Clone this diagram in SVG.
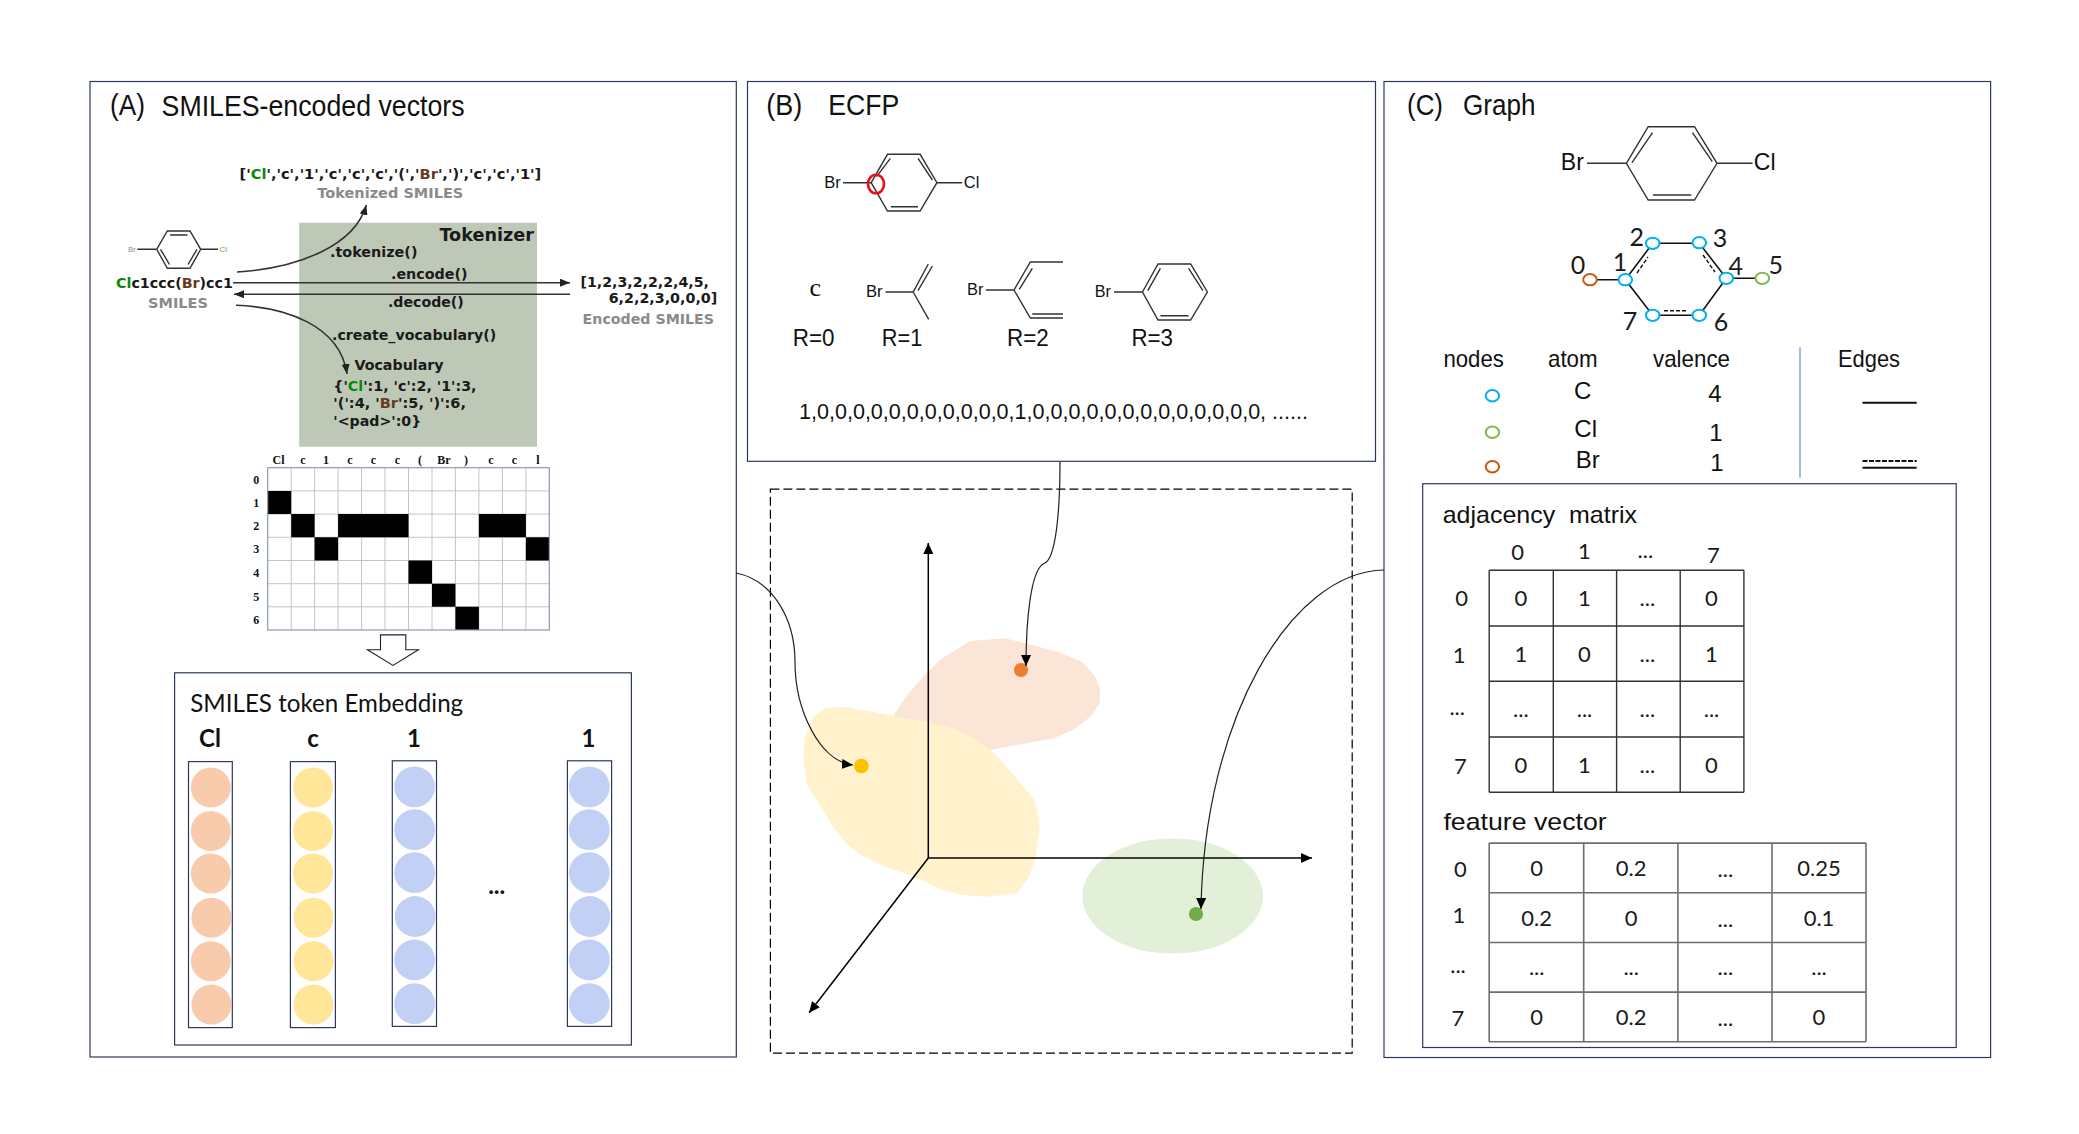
<svg xmlns="http://www.w3.org/2000/svg" width="2079" height="1134" viewBox="0 0 2079 1134">
<style>
text{font-family:"Liberation Sans",Arial,sans-serif;fill:#111}
.box{fill:none;stroke:#2A3A5E;stroke-width:1.2}
.t{font-size:29px}
.d{font-family:"DejaVu Sans",sans-serif;font-weight:700;font-size:14.5px;fill:#1a1a1a}
.g{fill:#8a8a8a}
.cl{fill:#0a8a0a}
.br{fill:#6b3a1e}
.s{font-family:"Liberation Serif",serif;font-weight:700;font-size:12px;text-anchor:middle}
.l{font-family:Lato,sans-serif;font-size:22px;text-anchor:middle;fill:#1a1a1a}
.n{font-size:25px}
.lb{font-family:Lato,sans-serif;font-size:24px;font-weight:700;text-anchor:middle}
.a{font-size:24px}
.m{text-anchor:middle}
.bond{fill:none;stroke:#333;stroke-width:1.4}
.cv{fill:none;stroke:#222;stroke-width:1.2}
.ax{fill:none;stroke:#000;stroke-width:1.5}
.ar{fill:none;stroke:#333;stroke-width:1.6}
.grid{fill:none;stroke:#c4c4c4;stroke-width:1}
.e{fill:#fff;stroke-width:2}
.bl{stroke:#00B0F0}.gr{stroke:#7DBB4E}.or{stroke:#C55A11}
.c1{fill:#F8CBAD}.c2{fill:#FFE699}.c3{fill:#C2D0F5}
.tbl{fill:none;stroke:#333;stroke-width:1.4}
.tb2{fill:none;stroke:#6e6e6e;stroke-width:1.6}
.bk{fill:none;stroke:#111;stroke-width:2}
</style>
<defs>
<marker id="ah" markerUnits="userSpaceOnUse" markerWidth="12" markerHeight="10" refX="11" refY="5" orient="auto"><path d="M0 0L11 5L0 10Z" fill="#000"/></marker>
<marker id="ahs" markerUnits="userSpaceOnUse" markerWidth="11" markerHeight="8" refX="10" refY="4" orient="auto"><path d="M0 0L10 4L0 8Z" fill="#222"/></marker>
</defs>
<rect width="2079" height="1134" fill="#fff"/>

<g id="panel-a">
<rect class="box" x="90" y="81.5" width="646.3" height="975.5"/>
<text class="t" x="110" y="115" textLength="35" lengthAdjust="spacingAndGlyphs">(A)</text>
<text class="t" x="161.6" y="116" textLength="303" lengthAdjust="spacingAndGlyphs">SMILES-encoded vectors</text>
<g id="tokenizer">
<rect x="299.2" y="222.7" width="237.8" height="224" fill="#BDC8B6"/>
<text class="d" style="font-size:18px" x="439.4" y="240.7" textLength="94.6" lengthAdjust="spacingAndGlyphs">Tokenizer</text>
<text class="d" x="330" y="257.3" textLength="87.5" lengthAdjust="spacingAndGlyphs">.tokenize()</text>
<text class="d" x="391" y="279" textLength="76.6" lengthAdjust="spacingAndGlyphs">.encode()</text>
<text class="d" x="388" y="306.7" textLength="75.8" lengthAdjust="spacingAndGlyphs">.decode()</text>
<text class="d" x="332" y="340" textLength="164.3" lengthAdjust="spacingAndGlyphs">.create_vocabulary()</text>
<text class="d" x="354.4" y="370" textLength="89.2" lengthAdjust="spacingAndGlyphs">Vocabulary</text>
<text class="d" x="333.3" y="390.7" textLength="143.2" lengthAdjust="spacingAndGlyphs">{'<tspan class="cl">Cl</tspan>':1, 'c':2, '1':3,</text>
<text class="d" x="333.3" y="408" textLength="132.7" lengthAdjust="spacingAndGlyphs">'(':4, '<tspan class="br">Br</tspan>':5, ')':6,</text>
<text class="d" x="333.3" y="425.7" textLength="88" lengthAdjust="spacingAndGlyphs">'&lt;pad&gt;':0}</text>
</g>
<g id="tokens">
<text class="d" x="239.5" y="179" textLength="301.8" lengthAdjust="spacingAndGlyphs">['<tspan class="cl">Cl</tspan>','c','1','c','c','c','(','<tspan class="br">Br</tspan>',')','c','c','1']</text>
<text class="d g" x="317.3" y="197.5" textLength="146" lengthAdjust="spacingAndGlyphs">Tokenized SMILES</text>
</g>
<g id="smiles">
<path class="bond" d="M156.7 249.3L167.3 231H190L200.7 249.3L190 268.3H167.3ZM137.3 249.3H156.7M200.7 249.3H218M170 235H187.5M160.5 249.3L169.5 264.5M197 249.3L188 264.5"/>
<text x="128" y="252" font-size="8" style="fill:#a08a7a">Br</text>
<text x="219.5" y="252" font-size="8" style="fill:#55b055">Cl</text>
<text class="d" x="116" y="288" textLength="117" lengthAdjust="spacingAndGlyphs"><tspan class="cl">Cl</tspan>c1ccc(<tspan class="br">Br</tspan>)cc1</text>
<text class="d g" x="148" y="307.7" textLength="60" lengthAdjust="spacingAndGlyphs">SMILES</text>
</g>
<g id="encoded">
<text class="d" x="580.5" y="286.7" textLength="128.5" lengthAdjust="spacingAndGlyphs">[1,2,3,2,2,2,4,5,</text>
<text class="d" x="608.7" y="303.3" textLength="108.6" lengthAdjust="spacingAndGlyphs">6,2,2,3,0,0,0]</text>
<text class="d g" x="582.6" y="324" textLength="131.4" lengthAdjust="spacingAndGlyphs">Encoded SMILES</text>
</g>
<g id="one-hot">
<rect x="267.7" y="467.7" width="281.6" height="162.3" fill="#fff"/>
<path class="grid" d="M291.2 467.7V630M314.6 467.7V630M338.1 467.7V630M361.6 467.7V630M385 467.7V630M408.5 467.7V630M432 467.7V630M455.4 467.7V630M478.9 467.7V630M502.4 467.7V630M525.9 467.7V630M267.7 490.9H549.3M267.7 514.1H549.3M267.7 537.3H549.3M267.7 560.5H549.3M267.7 583.7H549.3M267.7 606.8H549.3"/>
<path fill="#000" d="M267.7 490.9h23.5v23.2h-23.5zM291.2 514.1h23.4v23.2h-23.4zM338.1 514.1h70.4v23.2h-70.4zM478.9 514.1h47v23.2h-47zM314.6 537.3h23.5v23.2h-23.5zM525.9 537.3h23.4v23.2h-23.4zM408.5 560.5h23.5v23.2h-23.5zM432 583.7h23.4v23.1h-23.4zM455.4 606.8h23.5v23.2h-23.5z"/>
<rect x="267.7" y="467.7" width="281.6" height="162.3" fill="none" stroke="#8c9ab0" stroke-width="1.2"/>
<text class="s" x="278.6" y="464">Cl</text><text class="s" x="303" y="464">c</text><text class="s" x="326" y="464">1</text><text class="s" x="349.8" y="464">c</text><text class="s" x="373.3" y="464">c</text><text class="s" x="397.3" y="464">c</text><text class="s" x="420" y="464">(</text><text class="s" x="444" y="464">Br</text><text class="s" x="466" y="464">)</text><text class="s" x="490.8" y="464">c</text><text class="s" x="514.4" y="464">c</text><text class="s" x="538" y="464">l</text>
<text class="s" x="256.3" y="484.2">0</text><text class="s" x="256.3" y="506.7">1</text><text class="s" x="256.3" y="530">2</text><text class="s" x="256.3" y="553.3">3</text><text class="s" x="256.3" y="576.6">4</text><text class="s" x="256.3" y="600.7">5</text><text class="s" x="256.3" y="624">6</text>
</g>
<path id="block-arrow" d="M380.5 634.9H405.8V649.7H418.4L393 665.4L367.4 649.7H380.5Z" fill="#fff" stroke="#222" stroke-width="1.1"/>
<g id="embedding">
<rect class="box" x="174.6" y="672.8" width="456.8" height="372.2"/>
<text style="font-family:Lato,sans-serif;font-size:25.5px" x="190.2" y="711.5" textLength="273" lengthAdjust="spacingAndGlyphs">SMILES token Embedding</text>
<text class="lb" x="210" y="747">Cl</text><text class="lb" x="313" y="747">c</text><text class="lb" x="414" y="747">1</text><text class="lb" x="588.5" y="747">1</text>
<text class="lb" x="496.7" y="894">...</text>
<g id="vec-cl"><rect class="box" x="188.5" y="761.6" width="43.8" height="266"/>
<circle class="c1" cx="210.8" cy="787.6" r="20"/><circle class="c1" cx="210.8" cy="831" r="20"/><circle class="c1" cx="210.8" cy="873.5" r="20"/><circle class="c1" cx="211.4" cy="917.7" r="20"/><circle class="c1" cx="210.8" cy="961.2" r="20"/><circle class="c1" cx="211.4" cy="1004.5" r="20"/></g>
<g id="vec-c"><rect class="box" x="290.4" y="761.6" width="45" height="266"/>
<circle class="c2" cx="313.1" cy="787.6" r="20"/><circle class="c2" cx="313.1" cy="831" r="20"/><circle class="c2" cx="313.1" cy="873.5" r="20"/><circle class="c2" cx="313.6" cy="917.7" r="20"/><circle class="c2" cx="313.6" cy="961.2" r="20"/><circle class="c2" cx="313.6" cy="1004.5" r="20"/></g>
<g id="vec-1"><rect class="box" x="392.3" y="760.8" width="44.2" height="265.6"/>
<circle class="c3" cx="414.6" cy="786.8" r="20.4"/><circle class="c3" cx="414.6" cy="829.7" r="20.4"/><circle class="c3" cx="414.6" cy="872.7" r="20.4"/><circle class="c3" cx="415.2" cy="916.5" r="20.4"/><circle class="c3" cx="414.6" cy="959.9" r="20.4"/><circle class="c3" cx="414.6" cy="1003.7" r="20.4"/></g>
<g id="vec-last"><rect class="box" x="567.4" y="760.8" width="44.2" height="265.6"/>
<circle class="c3" cx="589.3" cy="786.8" r="20.4"/><circle class="c3" cx="589.3" cy="829.7" r="20.4"/><circle class="c3" cx="589.3" cy="872.7" r="20.4"/><circle class="c3" cx="589.9" cy="916.5" r="20.4"/><circle class="c3" cx="589.3" cy="959.9" r="20.4"/><circle class="c3" cx="589.3" cy="1003.7" r="20.4"/></g>
</g>
</g>

<g id="panel-b">
<rect class="box" x="747.5" y="81.5" width="628" height="379.8"/>
<text class="t" x="766.3" y="115" textLength="36" lengthAdjust="spacingAndGlyphs">(B)</text>
<text class="t" x="828.3" y="115" textLength="71" lengthAdjust="spacingAndGlyphs">ECFP</text>
<g id="ecfp-mol">
<path class="bond" d="M871.2 182.7L887.5 154.3H920.1L936.9 182.7L920.1 211H887.5ZM843 182.7H871.2M936.9 182.7H962.2M876.5 176.7L890.4 158.3M918 158.3L932.4 180M890.8 206.7H918"/>
<text x="824.3" y="188" font-size="17" textLength="16.5" lengthAdjust="spacingAndGlyphs">Br</text>
<text x="963.8" y="188" font-size="17" textLength="15.5" lengthAdjust="spacingAndGlyphs">Cl</text>
<ellipse cx="876" cy="184" rx="8" ry="9.3" fill="none" stroke="#E8101A" stroke-width="2.6"/>
</g>
<g id="r0"><text x="815.3" y="296" font-size="26" style="font-family:'Liberation Serif',serif" class="m">c</text>
<text x="792.8" y="345.7" font-size="23.5" textLength="41.7" lengthAdjust="spacingAndGlyphs">R=0</text></g>
<g id="r1"><path class="bond" d="M885.5 292H913.2L928.3 264M918 290.7L932.4 266M913.2 292L928.7 319.3"/>
<text x="865.9" y="297" font-size="17" textLength="16.7" lengthAdjust="spacingAndGlyphs">Br</text>
<text x="881.8" y="345.7" font-size="23.5" textLength="40.4" lengthAdjust="spacingAndGlyphs">R=1</text></g>
<g id="r2"><path class="bond" d="M985.8 290H1014L1030.3 262H1063M1019.3 289.3L1032.3 268.3M1014 290L1030.3 318H1063M1032.3 314H1063"/>
<text x="967" y="295" font-size="17" textLength="16.4" lengthAdjust="spacingAndGlyphs">Br</text>
<text x="1007" y="345.7" font-size="23.5" textLength="41.7" lengthAdjust="spacingAndGlyphs">R=2</text></g>
<g id="r3"><path class="bond" d="M1142.5 292L1158 264H1190.6L1207.4 292L1190.6 320H1158ZM1114 292H1142.5M1147.8 290.7L1160.4 268.3M1188.6 268.3L1202.9 290.7M1160.4 315.7H1188.6"/>
<text x="1094.8" y="297" font-size="17" textLength="16.2" lengthAdjust="spacingAndGlyphs">Br</text>
<text x="1131.5" y="345.7" font-size="23.5" textLength="41.5" lengthAdjust="spacingAndGlyphs">R=3</text></g>
<text id="bits" x="799" y="419" font-size="22.5" textLength="509" lengthAdjust="spacingAndGlyphs">1,0,0,0,0,0,0,0,0,0,0,0,1,0,0,0,0,0,0,0,0,0,0,0,0,0, ......</text>
</g>

<g id="latent-space">
<rect x="770.4" y="489.2" width="581.8" height="564" fill="none" stroke="#000" stroke-width="1.2" stroke-dasharray="9 4"/>
<g id="cluster-orange"><path transform="translate(750 460) scale(.408 .389)" fill="#FBE5D6" d="M352 655L385 605L435 545L470 510L540 465L625 458L700 478L760 495L815 520L845 555L858 590L857 625L835 660L790 695L745 715L590 745L500 760L400 700Z"/></g>
<g id="cluster-yellow"><path transform="translate(750 460) scale(.408 .389)" fill="#FFF2CC" d="M185 637L235 635L350 657L440 675L500 690L550 715L600 755L650 815L695 870L705 900L710 955L700 1020L685 1070L655 1113L580 1123L520 1118L470 1105L400 1070L330 1045L270 1015L235 985L205 945L170 885L140 835L130 765L135 710L155 660Z"/></g>
<ellipse id="cluster-green" cx="1172.6" cy="896" rx="90.3" ry="57.6" fill="#E2F0D9"/>
<g id="axes"><path class="ax" marker-end="url(#ah)" d="M928.3 858V543"/><path class="ax" marker-end="url(#ah)" d="M928.3 858H1312"/><path class="ax" stroke-width="1.2" marker-end="url(#ah)" d="M928.3 858L809.2 1012.8"/></g>
<circle id="dot-orange" cx="1021" cy="670" r="7.1" fill="#ED7D31"/>
<circle id="dot-yellow" cx="861.4" cy="766" r="7.3" fill="#FFC000"/>
<circle id="dot-green" cx="1196" cy="914" r="7.1" fill="#70AD47"/>
</g>

<g id="panel-c">
<rect class="box" x="1384" y="81.5" width="606.6" height="976"/>
<text class="t" x="1407" y="115" textLength="36" lengthAdjust="spacingAndGlyphs">(C)</text>
<text class="t" x="1463" y="115" textLength="72.5" lengthAdjust="spacingAndGlyphs">Graph</text>
<g id="graph-mol">
<path class="bond" d="M1626.4 163.3L1648.2 126.7H1694.5L1717 163.3L1694.5 200H1648.2ZM1587 163.3H1626.4M1717 163.3H1752.6M1632 162.7L1652.5 132.7M1692.5 132.7L1712.3 161.7M1653 195H1691.3"/>
<text class="a" x="1560.8" y="170" textLength="23" lengthAdjust="spacingAndGlyphs">Br</text>
<text class="a" x="1753.8" y="170" textLength="21.7" lengthAdjust="spacingAndGlyphs">Cl</text>
</g>
<g id="graph-edges" fill="none" stroke="#111">
<path stroke-width="1.6" d="M1590 279.7H1625.3L1652.7 243.3H1699.3L1726.3 278.3H1762.3M1625.3 279.7L1652.7 315.3H1699.3L1726.3 278.3"/>
<path stroke-width="1.4" stroke-dasharray="4 2" d="M1637 273L1648 257M1703 255L1715 272M1664 310.7H1688"/>
</g>
<g id="graph-nodes">
<ellipse class="e or" cx="1590" cy="279.7" rx="6.8" ry="5.6"/>
<ellipse class="e bl" cx="1625.3" cy="279.7" rx="6.8" ry="5.6"/>
<ellipse class="e bl" cx="1652.7" cy="243.3" rx="6.8" ry="5.6"/>
<ellipse class="e bl" cx="1699.3" cy="242.7" rx="6.8" ry="5.6"/>
<ellipse class="e bl" cx="1726.3" cy="278.3" rx="6.8" ry="5.6"/>
<ellipse class="e gr" cx="1762.3" cy="278.3" rx="6.8" ry="5.6"/>
<ellipse class="e bl" cx="1699.3" cy="315.3" rx="6.8" ry="5.6"/>
<ellipse class="e bl" cx="1652.7" cy="315.3" rx="6.8" ry="5.6"/>
<text class="l n" x="1578" y="274">0</text><text class="l n" x="1620" y="271">1</text><text class="l n" x="1636.7" y="245.7">2</text><text class="l n" x="1720" y="246.7">3</text><text class="l n" x="1735.7" y="275">4</text><text class="l n" x="1775.7" y="274">5</text><text class="l n" x="1721" y="330.7">6</text><text class="l n" x="1630" y="330">7</text>
</g>
<g id="legend">
<text class="a" x="1443.4" y="366.7" textLength="60.5" lengthAdjust="spacingAndGlyphs">nodes</text>
<text class="a" x="1548" y="366.7" textLength="49.6" lengthAdjust="spacingAndGlyphs">atom</text>
<text class="a" x="1653" y="366.7" textLength="77" lengthAdjust="spacingAndGlyphs">valence</text>
<text class="a" x="1838" y="366.7" textLength="62" lengthAdjust="spacingAndGlyphs">Edges</text>
<ellipse class="e bl" cx="1492.4" cy="395.7" rx="6.7" ry="5.7"/>
<ellipse class="e gr" cx="1492.4" cy="432.3" rx="6.7" ry="5.7"/>
<ellipse class="e or" cx="1492.4" cy="466.7" rx="6.7" ry="5.7"/>
<text class="a m" x="1582.6" y="399.3">C</text><text class="a m" x="1585.7" y="437.3">Cl</text><text class="a m" x="1587.7" y="468.3">Br</text>
<text class="a m" x="1715" y="402.3">4</text><text class="a m" x="1716" y="440.7">1</text><text class="a m" x="1717" y="471">1</text>
<path d="M1800 347.3V477.7" stroke="#A4B8E4" stroke-width="2"/>
<path class="bk" d="M1862.5 402.7H1916.7M1862.5 467.7H1916.7"/>
<path class="bk" stroke-dasharray="5 1.5" d="M1862.5 461H1916.7"/>
</g>
<g id="matrices">
<rect class="box" x="1422.7" y="483.7" width="533.5" height="563.8"/>
<text class="a" x="1442.7" y="522.5" textLength="194.3" lengthAdjust="spacingAndGlyphs" xml:space="preserve">adjacency  matrix</text>
<g id="adjacency">
<path class="tbl" d="M1489.2 570.3H1743.9M1489.2 626H1743.9M1489.2 681.3H1743.9M1489.2 737H1743.9M1489.2 792.3H1743.9M1489.2 570.3V792.3M1553.3 570.3V792.3M1616.6 570.3V792.3M1680.2 570.3V792.3M1743.9 570.3V792.3"/>
<text class="l" x="1517.7" y="560">0</text><text class="l" x="1584.5" y="558.5">1</text><text class="l" x="1645.4" y="558">...</text><text class="l" x="1713.4" y="563">7</text>
<text class="l" x="1461.6" y="605.5">0</text><text class="l" x="1459.2" y="662.5">1</text><text class="l" x="1457.2" y="715">...</text><text class="l" x="1460.4" y="773.5">7</text>
<text class="l" x="1520.9" y="605.5">0</text><text class="l" x="1584.5" y="605.5">1</text><text class="l" x="1647.4" y="606">...</text><text class="l" x="1711.5" y="605.5">0</text>
<text class="l" x="1520.9" y="661.5">1</text><text class="l" x="1584.5" y="661.5">0</text><text class="l" x="1647.4" y="662">...</text><text class="l" x="1711.5" y="661.5">1</text>
<text class="l" x="1520.9" y="717">...</text><text class="l" x="1584.5" y="717">...</text><text class="l" x="1647.4" y="717">...</text><text class="l" x="1711.5" y="717">...</text>
<text class="l" x="1520.9" y="772.5">0</text><text class="l" x="1584.5" y="772.5">1</text><text class="l" x="1647.4" y="773">...</text><text class="l" x="1711.5" y="772.5">0</text>
</g>
<text class="a" x="1443.4" y="829.5" textLength="163.3" lengthAdjust="spacingAndGlyphs">feature vector</text>
<g id="features">
<path class="tb2" d="M1489.2 843.1H1866M1489.2 892.8H1866M1489.2 942.5H1866M1489.2 992.1H1866M1489.2 1041.8H1866M1489.2 843.1V1041.8M1583.7 843.1V1041.8M1677.9 843.1V1041.8M1772 843.1V1041.8M1866 843.1V1041.8"/>
<text class="l" x="1460.4" y="877">0</text><text class="l" x="1458.8" y="922.5">1</text><text class="l" x="1458" y="973">...</text><text class="l" x="1458" y="1025.5">7</text>
<text class="l" x="1536.7" y="875.5">0</text><text class="l" x="1631.2" y="875.5">0.2</text><text class="l" x="1725.3" y="877">...</text><text class="l" x="1819" y="875.5">0.25</text>
<text class="l" x="1536.7" y="925.5">0.2</text><text class="l" x="1631.2" y="925.5">0</text><text class="l" x="1725.3" y="927">...</text><text class="l" x="1819" y="925.5">0.1</text>
<text class="l" x="1536.7" y="975">...</text><text class="l" x="1631.2" y="975">...</text><text class="l" x="1725.3" y="975">...</text><text class="l" x="1819" y="975">...</text>
<text class="l" x="1536.7" y="1024.5">0</text><text class="l" x="1631.2" y="1024.5">0.2</text><text class="l" x="1725.3" y="1026">...</text><text class="l" x="1819" y="1024.5">0</text>
</g>
</g>
</g>

<g id="connectors">
<path class="ar" marker-end="url(#ahs)" d="M237 272C300 268 355 245 366.3 205"/>
<path class="ar" marker-end="url(#ahs)" d="M233 282.7H570"/>
<path class="ar" marker-end="url(#ahs)" d="M570 294.3H234"/>
<path class="ar" marker-end="url(#ahs)" d="M236 305.3C285 307 340 325 347 374"/>
<path class="cv" marker-end="url(#ah)" d="M1060 462C1060 510 1056 560 1044 563.5C1030 570 1026 625 1026 666"/>
<path class="cv" marker-end="url(#ah)" d="M736 573C772 580 795 618 795 662C795 710 820 762 853 765"/>
<path class="cv" marker-end="url(#ah)" d="M1384 570C1290 572 1204 720 1201 909"/>
</g>
</svg>
